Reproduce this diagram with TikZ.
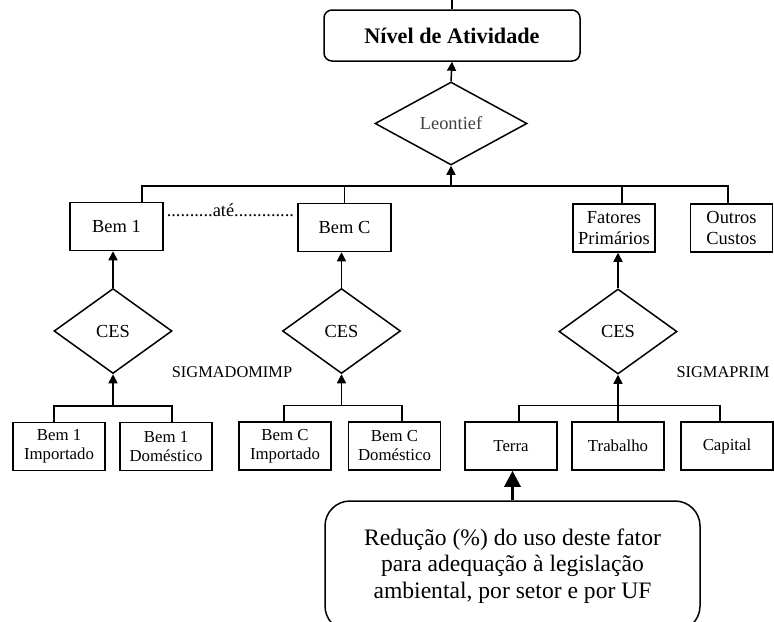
\documentclass[tikz,border=0pt]{standalone}
\usepackage{fontspec}
\setmainfont{Liberation Serif}
\usetikzlibrary{shapes.geometric,arrows.meta}
\begin{document}
\begin{tikzpicture}[x=0.5pt,y=-0.5pt,line width=0.75pt,
  caixa/.style={draw,rectangle,inner sep=0pt,minimum width=46.5pt,minimum height=24pt,align=center,font=\fontsize{9.2}{10.5}\selectfont},
  insumo/.style={caixa,minimum width=46pt,font=\fontsize{8.4}{9.5}\selectfont},
  losango/.style={draw,diamond,inner sep=0pt,minimum width=59pt,minimum height=42.5pt,font=\fontsize{9.2}{10.5}\selectfont},
  rotulo/.style={font=\fontsize{8.2}{9.5}\selectfont},
  seta/.style={-{Triangle[width=4.5pt,length=4.5pt]}}]
\fill[white] (0,0) rectangle (774,621);
\useasboundingbox (0,0) rectangle (774,621);
\clip (0,0) rectangle (774,621);
\node[draw,rounded corners=4pt,minimum width=128pt,minimum height=25.5pt,font=\bfseries\fontsize{11.1}{13}\selectfont] (nivel) at (452,35.5) {Nível de Atividade};
\node[losango,minimum width=76pt,minimum height=41.5pt,text=black!75] (leontief) at (451,123.5) {Leontief};
\node[caixa] (bem1) at (116.5,226.5) {Bem 1};
\node[caixa] (bemC) at (344.5,227.5) {Bem C};
\node[caixa,minimum width=41pt] (fatores) at (614,228) {Fatores\\Primários};
\node[caixa,minimum width=41pt] (outros) at (731.5,228) {Outros\\Custos};
\node[anchor=base west,inner sep=0pt,font=\fontsize{9.2}{10.5}\selectfont] (ate) at (166,216) {..........até.............};
\node[losango] (ces1) at (113,331) {CES};
\node[losango] (cesC) at (341.5,331) {CES};
\node[losango] (cesP) at (618,331.5) {CES};
\node[rotulo] (sigdom) at (232,372) {SIGMADOMIMP};
\node[rotulo] (sigprim) at (723,372) {SIGMAPRIM};
\node[insumo] (imp1) at (59,446.5) {Bem 1\\Importado};
\node[insumo] (dom1) at (166,446.5) {Bem 1\\Doméstico};
\node[insumo] (impC) at (285,446) {Bem C\\Importado};
\node[insumo] (domC) at (394.5,446) {Bem C\\Doméstico};
\node[insumo] (terra) at (511,446) {Terra};
\node[insumo] (trabalho) at (618,446) {Trabalho};
\node[insumo] (capital) at (727,446) {Capital};
\node[draw,rounded corners=12.5pt,minimum width=187.5pt,minimum height=65pt,align=center,font=\fontsize{11.8}{13.3}\selectfont] (reducao) at (512.5,566) {Redução (\%) do uso deste fator\\para adequação à legislação\\ambiental, por setor e por UF};
\coordinate (barra) at (451,187);
\draw (nivel.north) -- ++(0,-12);
\draw[seta] (leontief.north) -- (nivel.south);
\draw[seta] (barra) -- (leontief.south);
\draw ([xshift=12.75pt]bem1.north) -- ++(0,-16) -| ([xshift=-1.75pt]outros.north);
\draw (bemC.north) -- (bemC.north |- barra);
\draw ([xshift=4pt]fatores.north) -- ([xshift=4pt]fatores.north |- barra);
\draw[seta] (ces1.north) -- (ces1.north |- bem1.south);
\draw[seta] (cesC.north) -- (cesC.north |- bemC.south);
\draw[seta] (cesP.north) -- (cesP.north |- fatores.south);
\draw ([xshift=-2.5pt]imp1.north) -- ++(0,-16) -| ([xshift=3pt]dom1.north);
\draw[seta] ([yshift=8pt]ces1.south |- imp1.north) -- (ces1.south);
\draw ([xshift=-0.5pt]impC.north) -- ++(0,-16) -| ([xshift=3.75pt]domC.north);
\draw[seta] ([yshift=8pt]cesC.south |- impC.north) -- (cesC.south);
\draw ([xshift=4pt]terra.north) -- ++(0,-16) -| ([xshift=-3.5pt]capital.north);
\draw[seta] (trabalho.north) -- (cesP.south);
\draw[line width=1.5pt,-{Triangle[width=8pt,length=8pt]}] (reducao.north) -- (reducao.north |- terra.south);
\end{tikzpicture}
\end{document}
